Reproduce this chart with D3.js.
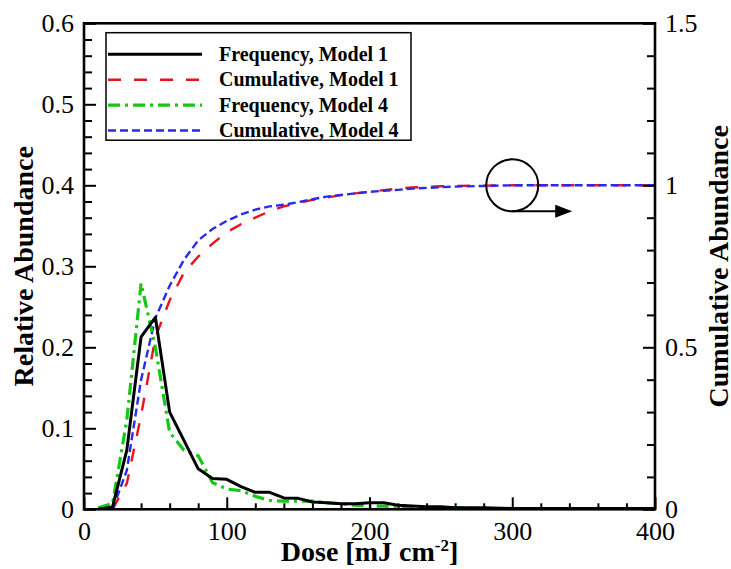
<!DOCTYPE html>
<html><head><meta charset="utf-8">
<script src="https://cdn.jsdelivr.net/npm/d3@7"></script>
<style>
html,body{margin:0;padding:0;background:#fff;}
</style></head>
<body><svg id="chart" width="731" height="569"></svg>
<script>
// ---- data ----
const doseFreq = [10,20,30,40,50,60,70,80,90,100,110,120,130,140,150,160,170,180,190,200,210,220,230,240,250,260,280,300,320,340,360,380,400];
const freqModel1 = [0,0.003,0.073,0.213,0.237,0.120,0.085,0.050,0.038,0.037,0.028,0.021,0.021,0.014,0.0135,0.009,0.008,0.007,0.007,0.008,0.008,0.005,0.004,0.003,0.003,0.002,0.002,0.001,0.001,0.001,0.001,0.001,0.001];
const freqModel4 = [0.002,0.007,0.11,0.279,0.20,0.095,0.073,0.066,0.033,0.025,0.023,0.016,0.011,0.010,0.010,0.010,0.008,0.007,0.005,0.004,0.004,0.003,0.003,0.002,0.002,0.002,0.001,0.001,0.001,0.001,0.001,0.001,0.001];
const doseCum = [20,30,40,50,60,70,80,90,100,110,120,130,140,150,160,170,180,190,200,210,220,230,240,250,260,280,300,320,340,360,380,400];
const cumModel1 = [0,0.08,0.29,0.53,0.645,0.73,0.78,0.82,0.855,0.88,0.90,0.92,0.935,0.945,0.955,0.962,0.97,0.975,0.98,0.985,0.99,0.993,0.995,0.997,0.998,0.999,1,1,1,1,1,1];
const cumModel4 = [0,0.12,0.40,0.59,0.69,0.77,0.83,0.865,0.89,0.91,0.925,0.935,0.94,0.948,0.957,0.965,0.97,0.975,0.98,0.983,0.986,0.99,0.992,0.994,0.996,0.998,1,1,1,1,1,1];
const xTicks = [0,100,200,300,400];
const xTickLabels = ["0","100","200","300","400"];
const yLTicks = [0,0.1,0.2,0.3,0.4,0.5,0.6];
const yLTickLabels = ["0","0.1","0.2","0.3","0.4","0.5","0.6"];
const yRTicks = [0,0.5,1,1.5];
const yRTickLabels = ["0","0.5","1","1.5"];
const seriesNames = ["Frequency, Model 1","Cumulative, Model 1","Frequency, Model 4","Cumulative, Model 4"];

const FONT = '"Liberation Serif"';

// ---- layout ----
const L=84, R=655, T=23.3, B=509.3;
const svg = d3.select("#chart");
const x = d3.scaleLinear().domain([0,400]).range([L,R]);
const yL = d3.scaleLinear().domain([0,0.6]).range([B,T]);
const yR = d3.scaleLinear().domain([0,1.5]).range([B,T]);

svg.append("defs").append("clipPath").attr("id","clip")
  .append("rect").attr("x",L).attr("y",T).attr("width",R-L).attr("height",B-T);

const series = [
  {name:seriesNames[0], xs:doseFreq, ys:freqModel1, y:yL, color:"#000000", w:3, dash:null},
  {name:seriesNames[1], xs:doseCum, ys:cumModel1, y:yR, color:"#e8141c", w:2.4, dash:"13,13"},
  {name:seriesNames[2], xs:doseFreq, ys:freqModel4, y:yL, color:"#16c816", w:3.2, dash:"12,5,3,5"},
  {name:seriesNames[3], xs:doseCum, ys:cumModel4, y:yR, color:"#2a2aee", w:2.4, dash:"8,4"}
];
const drawOrder = [1,3,2,0];
const g = svg.append("g").attr("clip-path","url(#clip)");
drawOrder.forEach(i=>{
  const s = series[i];
  const line = d3.line().x((d,j)=>x(s.xs[j])).y(d=>s.y(d));
  g.append("path").datum(s.ys).attr("d",line).attr("fill","none")
   .attr("stroke",s.color).attr("stroke-width",s.w)
   .attr("stroke-dasharray",s.dash).attr("stroke-linejoin","round");
});

// ---- axes ----
function styleAxis(sel){
  sel.select(".domain").remove();
  sel.attr("font-family",null).attr("font-size",null);
  sel.selectAll("line").attr("stroke","#000").attr("stroke-width",2);
  sel.selectAll("text").style("font-family",FONT).style("font-size","26px").attr("fill","#000");
}
const xMinor = d3.range(0,401,20).filter(v=>v%100!==0);
svg.append("g").attr("transform",`translate(0,${B})`)
  .call(d3.axisBottom(x).tickValues(xMinor).tickSize(-6).tickFormat("")).call(styleAxis);
svg.append("g").attr("transform",`translate(0,${B})`)
  .call(d3.axisBottom(x).tickValues(xTicks).tickSize(-12).tickPadding(12)
    .tickFormat((d,i)=>xTickLabels[i])).call(styleAxis);

const yLMinor = d3.range(0,31).map(v=>v*0.02).filter((v,i)=>i%5!==0);
svg.append("g").attr("transform",`translate(${L},0)`)
  .call(d3.axisLeft(yL).tickValues(yLMinor).tickSize(-8).tickFormat("")).call(styleAxis);
svg.append("g").attr("transform",`translate(${L},0)`)
  .call(d3.axisLeft(yL).tickValues(yLTicks).tickSize(-12).tickPadding(10)
    .tickFormat((d,i)=>yLTickLabels[i])).call(styleAxis);

const yRMinor = d3.range(0,16).map(v=>v*0.1).filter((v,i)=>i%5!==0);
svg.append("g").attr("transform",`translate(${R},0)`)
  .call(d3.axisRight(yR).tickValues(yRMinor).tickSize(-8).tickFormat("")).call(styleAxis);
svg.append("g").attr("transform",`translate(${R},0)`)
  .call(d3.axisRight(yR).tickValues(yRTicks).tickSize(-12).tickPadding(10)
    .tickFormat((d,i)=>yRTickLabels[i])).call(styleAxis);

// frame
svg.append("rect").attr("x",L).attr("y",T).attr("width",R-L).attr("height",B-T)
  .attr("fill","none").attr("stroke","#000").attr("stroke-width",2.6);

// ---- titles ----
const xt = svg.append("text").attr("x",(L+R)/2).attr("y",561).attr("text-anchor","middle")
  .style("font-family",FONT).style("font-size","28px").style("font-weight","bold");
xt.append("tspan").text("Dose [mJ cm");
xt.append("tspan").attr("dy",-10).style("font-size","17px").text("-2");
xt.append("tspan").attr("dy",10).text("]");

svg.append("text").attr("transform",`translate(33,${(T+B)/2}) rotate(-90)`)
  .attr("text-anchor","middle").style("font-family",FONT).style("font-size","28px").style("font-weight","bold")
  .text("Relative Abundance");
svg.append("text").attr("transform",`translate(728,${(T+B)/2}) rotate(-90)`)
  .attr("text-anchor","middle").style("font-family",FONT).style("font-size","28px").style("font-weight","bold")
  .text("Cumulative Abundance");

// ---- legend ----
const lg = svg.append("g");
lg.append("rect").attr("x",106).attr("y",32.7).attr("width",305).attr("height",107.5)
  .attr("fill","#fff").attr("stroke","#000").attr("stroke-width",1.5);
series.forEach((s,i)=>{
  const yy = 54.3 + i*25.4;
  lg.append("line").attr("x1",108).attr("x2",202).attr("y1",yy).attr("y2",yy)
    .attr("stroke",s.color).attr("stroke-width",s.w).attr("stroke-dasharray",s.dash);
  lg.append("text").attr("x",219).attr("y",yy+6.5).style("font-family",FONT).style("font-size","20px")
    .style("font-weight","bold").text(s.name);
});

// ---- annotation: circle + arrow pointing to right axis ----
const cx = x(300), cy = yR(1.0), r = 26;
svg.append("circle").attr("cx",cx).attr("cy",cy).attr("r",r)
  .attr("fill","none").attr("stroke","#000").attr("stroke-width",2);
const ay = cy + r, ax2 = x(342);
svg.append("line").attr("x1",cx).attr("x2",ax2-14).attr("y1",ay).attr("y2",ay)
  .attr("stroke","#000").attr("stroke-width",2);
svg.append("path").attr("d",`M${ax2},${ay} L${ax2-17},${ay-6.5} L${ax2-17},${ay+6.5} Z`)
  .attr("fill","#000");
</script></body></html>
